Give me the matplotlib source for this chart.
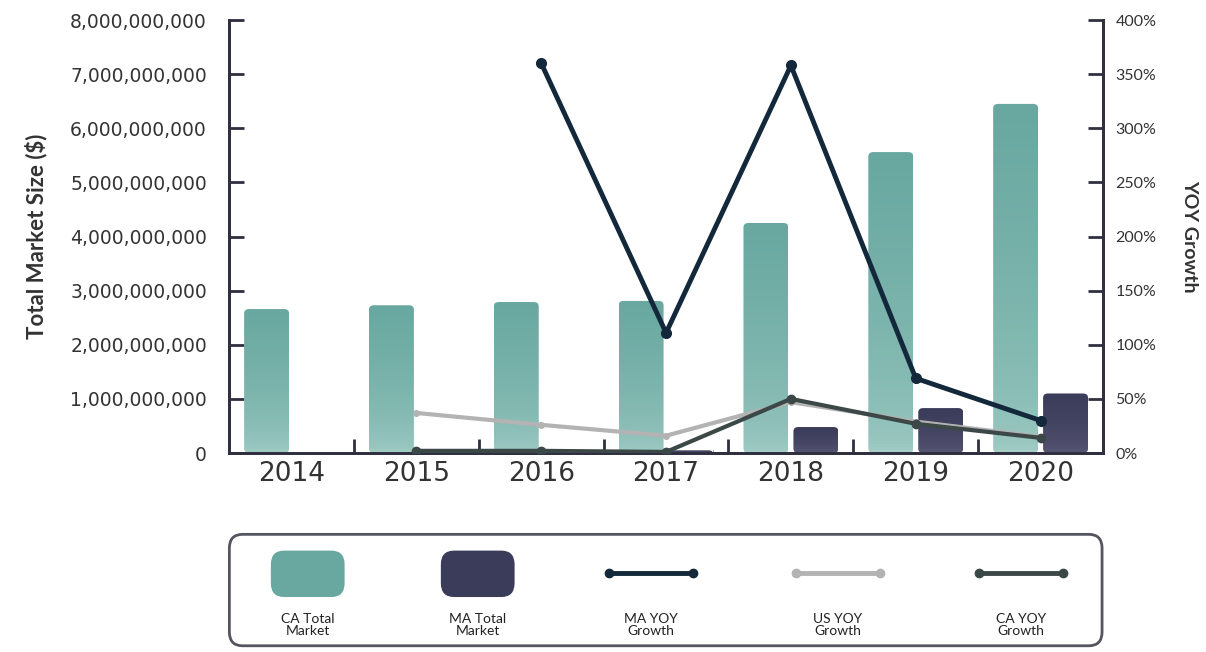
import matplotlib.pyplot as plt
import numpy as np
from matplotlib.patches import FancyBboxPatch
from matplotlib.lines import Line2D
from matplotlib.ticker import FuncFormatter, FixedLocator

plt.rcParams['font.family'] = ['Lato', 'DejaVu Sans']

# datos
years = ['2014', '2015', '2016', '2017', '2018', '2019', '2020']
ca_total = [2.66e9, 2.73e9, 2.79e9, 2.81e9, 4.25e9, 5.56e9, 6.45e9]
ma_total = [0, 0, 0, 0.05e9, 0.48e9, 0.83e9, 1.1e9]
ma_yoy = [np.nan, np.nan, 360, 111, 358, 69, 30]
us_yoy = [np.nan, 37, 26, 16, 47, 29, 15]
ca_yoy = [np.nan, 2, 2, 1, 50, 27, 14]

c_ca = '#68a8a0'
c_ca_light = '#a4cec7'
c_ma = '#3b3b5a'
c_ma_light = '#5a5a78'
c_mayoy = '#13283a'
c_usyoy = '#b3b3b3'
c_cayoy = '#3c4848'
c_axis = '#2f2f3f'
c_text = '#333333'

fig = plt.figure(figsize=(12.06, 6.52), dpi=100)
ax = fig.add_axes([0.19, 0.3052, 0.7246, 0.6641])
x = np.arange(len(years))
w = 0.36

def grad_bars(xs, vals, top, bottom):
    bars = ax.bar(xs, vals, w, color='none', edgecolor='none')
    cmap = plt.matplotlib.colors.LinearSegmentedColormap.from_list('g', [bottom, top])
    grad = np.linspace(0, 1, 100).reshape(-1, 1) ** 0.5
    for b in bars:
        if b.get_height() <= 0:
            continue
        x0 = b.get_x()
        h = b.get_height()
        p = FancyBboxPatch((x0, 0), w, h, boxstyle='round,pad=0,rounding_size=0.04',
                           mutation_aspect=0.6e9 / 0.3,
                           facecolor='none', edgecolor='none')
        ax.add_patch(p)
        im = ax.imshow(grad, extent=[x0, x0 + w, 0, h], origin='lower', cmap=cmap,
                       aspect='auto', zorder=2)
        im.set_clip_path(p)

grad_bars(x - 0.2, ca_total, c_ca, c_ca_light)
grad_bars(x + 0.2, ma_total, c_ma, c_ma_light)

ax.set_xlim(-0.5, len(years) - 0.5)
ax.set_ylim(0, 8e9)
ax.set_aspect('auto')

ax.yaxis.set_major_locator(FixedLocator(np.arange(0, 8.01e9, 1e9)))
ax.yaxis.set_major_formatter(FuncFormatter(lambda v, p: '{:,.0f}'.format(v)))
ax.set_xticks(x)
ax.set_xticklabels(years, family='DejaVu Sans')
ax.set_xticks(np.arange(0.5, len(years) - 1, 1), minor=True)
ax.tick_params(axis='x', which='major', length=0, labelsize=19, colors=c_text, pad=6)
ax.tick_params(axis='x', which='minor', length=10, width=2, direction='in', color=c_axis)
ax.tick_params(axis='y', length=11, width=2, direction='in', labelsize=13.5,
               colors=c_text, color=c_axis, pad=16)
for lab in ax.get_yticklabels():
    lab.set_family('DejaVu Sans')
ax.spines['top'].set_visible(False)
for s in ['left', 'bottom', 'right']:
    ax.spines[s].set_color(c_axis)
    ax.spines[s].set_linewidth(2)
ax.set_ylabel('Total Market Size ($)', fontsize=16, fontweight='bold', color=c_text, labelpad=16)

ax2 = ax.twinx()
ax2.set_ylim(0, 400)
ax2.set_xlim(-0.5, len(years) - 0.5)
ax2.plot(x, us_yoy, color=c_usyoy, lw=3, marker='o', ms=4, zorder=3)
ax2.plot(x, ca_yoy, color=c_cayoy, lw=3, marker='o', ms=6, zorder=4)
ax2.plot(x, ma_yoy, color=c_mayoy, lw=3.5, marker='o', ms=7, zorder=5)
ax2.yaxis.set_major_locator(FixedLocator(np.arange(0, 401, 50)))
ax2.yaxis.set_major_formatter(FuncFormatter(lambda v, p: '{:.0f}%'.format(v)))
ax2.tick_params(axis='y', length=11, width=2, direction='in', labelsize=11.5,
                colors=c_text, color=c_axis, pad=9)
ax2.spines['top'].set_visible(False)
for s in ['left', 'bottom', 'right']:
    ax2.spines[s].set_color(c_axis)
    ax2.spines[s].set_linewidth(2)
ax2.set_ylabel('YOY Growth', fontsize=14, fontweight='bold', color=c_text,
               rotation=270, labelpad=30)

# leyenda
lg = fig.add_axes([0.188, 0.006, 0.728, 0.178])
lg.set_xlim(0, 1)
lg.set_ylim(0, 1)
lg.axis('off')
lg.add_patch(FancyBboxPatch((0.003, 0.02), 0.994, 0.96, boxstyle='round,pad=0,rounding_size=0.015',
                            mutation_aspect=8, facecolor='white', edgecolor='#555560', lw=2))
cx = [(308 - 227) / 878, (478 - 227) / 878, (651 - 227) / 878, (838 - 227) / 878, (1021 - 227) / 878]
labels = ['CA Total\nMarket', 'MA Total\nMarket', 'MA YOY\nGrowth', 'US YOY\nGrowth', 'CA YOY\nGrowth']
for i, (c, lab) in enumerate(zip(cx, labels)):
    if i < 2:
        col = [c_ca, c_ma][i]
        lg.add_patch(FancyBboxPatch((c - 0.042, 0.44), 0.084, 0.4,
                                    boxstyle='round,pad=0,rounding_size=0.015', mutation_aspect=8,
                                    facecolor=col, edgecolor='none'))
    else:
        col = [c_mayoy, c_usyoy, c_cayoy][i - 2]
        lg.add_line(Line2D([c - 0.048, c + 0.048], [0.645, 0.645], color=col, lw=3.5,
                           marker='o', ms=6))
    lg.text(c, 0.2, lab, ha='center', va='center', fontsize=10, color='#222222',
            linespacing=1.05)

fig.savefig('out.png', dpi=100)
